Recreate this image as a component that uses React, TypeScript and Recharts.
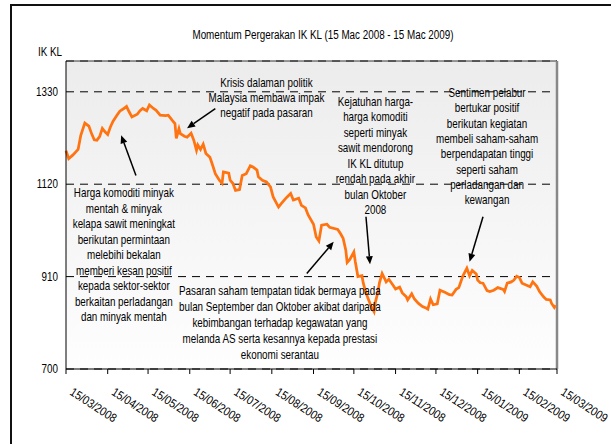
import React from 'react';
import { LineChart, Line, XAxis, YAxis, CartesianGrid, ReferenceLine, ReferenceDot } from 'recharts';

// Arial-like font squeezed horizontally to match the narrow type of the original
const FONT = '"Liberation Sans", Arial, sans-serif';
const SQUEEZE = 0.82;

const dates = [
  '2008-03-15', '2008-03-17', '2008-03-20', '2008-03-24', '2008-03-26', '2008-03-29',
  '2008-04-01', '2008-04-03', '2008-04-05', '2008-04-07', '2008-04-09', '2008-04-11', '2008-04-13',
  '2008-04-15', '2008-04-17', '2008-04-19', '2008-04-22', '2008-04-24', '2008-04-27', '2008-04-29',
  '2008-05-01', '2008-05-03', '2008-05-07', '2008-05-09', '2008-05-11', '2008-05-14', '2008-05-16',
  '2008-05-19', '2008-05-21', '2008-05-24', '2008-05-28', '2008-05-30',
  '2008-06-02', '2008-06-04', '2008-06-05', '2008-06-07', '2008-06-08', '2008-06-11', '2008-06-13',
  '2008-06-16', '2008-06-18', '2008-06-20', '2008-06-21', '2008-06-23', '2008-06-25', '2008-06-27',
  '2008-06-30', '2008-07-02', '2008-07-04', '2008-07-07', '2008-07-09', '2008-07-10', '2008-07-14',
  '2008-07-15', '2008-07-17', '2008-07-19', '2008-07-22', '2008-07-24', '2008-07-27', '2008-07-30',
  '2008-08-01', '2008-08-04', '2008-08-05', '2008-08-08', '2008-08-11', '2008-08-14', '2008-08-16',
  '2008-08-20', '2008-08-22', '2008-08-26', '2008-08-29', '2008-08-31',
  '2008-09-04', '2008-09-06', '2008-09-09', '2008-09-11', '2008-09-15', '2008-09-17', '2008-09-19',
  '2008-09-21', '2008-09-25', '2008-09-27',
  '2008-10-03', '2008-10-05', '2008-10-07', '2008-10-09', '2008-10-10', '2008-10-12', '2008-10-15',
  '2008-10-16', '2008-10-18', '2008-10-21', '2008-10-22', '2008-10-24', '2008-10-26', '2008-10-28',
  '2008-10-30', '2008-10-31',
  '2008-11-02', '2008-11-03', '2008-11-05', '2008-11-08', '2008-11-10', '2008-11-13', '2008-11-15',
  '2008-11-18', '2008-11-20', '2008-11-23', '2008-11-24', '2008-11-27', '2008-11-29',
  '2008-12-02', '2008-12-05', '2008-12-08', '2008-12-09', '2008-12-11', '2008-12-13', '2008-12-16',
  '2008-12-18', '2008-12-22', '2008-12-25', '2008-12-27', '2008-12-30',
  '2009-01-01', '2009-01-04', '2009-01-07', '2009-01-09', '2009-01-11', '2009-01-14', '2009-01-15',
  '2009-01-17', '2009-01-19', '2009-01-22', '2009-01-24', '2009-01-27', '2009-01-30',
  '2009-02-03', '2009-02-04', '2009-02-06', '2009-02-09', '2009-02-11', '2009-02-13', '2009-02-15',
  '2009-02-17', '2009-02-20', '2009-02-23', '2009-02-25', '2009-02-28',
  '2009-03-02', '2009-03-05', '2009-03-07', '2009-03-10', '2009-03-11', '2009-03-13', '2009-03-14',
];

const klci = [
  1196, 1178, 1186, 1199, 1231, 1259,
  1252, 1235, 1221, 1220, 1228, 1247, 1239,
  1233, 1250, 1263, 1277, 1286, 1292, 1297,
  1284, 1273, 1279, 1287, 1292, 1287, 1300,
  1292, 1288, 1277, 1276, 1277,
  1265, 1258, 1224, 1246, 1235, 1229, 1227,
  1236, 1220, 1197, 1209, 1199, 1211, 1190,
  1181, 1163, 1144, 1129, 1122, 1148, 1145,
  1129, 1122, 1106, 1108, 1140, 1144, 1162,
  1159, 1152, 1137, 1129, 1125, 1114, 1091,
  1068, 1076, 1090, 1099, 1084,
  1088, 1072, 1066, 1050, 1029, 1000, 991,
  1027, 1029, 1022,
  1017, 1008, 997, 970, 942, 949, 966,
  945, 910, 912, 895, 873, 857, 841,
  830, 852,
  876, 896, 917, 898, 904, 891, 882,
  886, 873, 864, 857, 871, 859,
  849, 842, 838, 836, 859, 846, 848,
  879, 874, 869, 868, 881,
  885, 911, 929, 912, 924, 916, 902,
  896, 895, 878, 876, 879, 885,
  881, 876, 895, 898, 902, 911, 908,
  895, 891, 887, 898, 888,
  876, 864, 858, 857, 849, 840, 845,
];

const tickDates = [
  '2008-03-15', '2008-04-15', '2008-05-15', '2008-06-15', '2008-07-15', '2008-08-15', '2008-09-15',
  '2008-10-15', '2008-11-15', '2008-12-15', '2009-01-15', '2009-02-15', '2009-03-15',
];
const yTicks = [700, 910, 1120, 1330];

// text notes: date and value at the centre of the first line, line gap
const notes = [
  { at: '2008-08-11', v: 1349, gap: 15, lines: ['Krisis dalaman politik', 'Malaysia membawa impak', 'negatif pada pasaran'] },
  { at: '2008-04-27', v: 1099, gap: 15.5, lines: ['Harga komoditi minyak', 'mentah & minyak', 'kelapa sawit meningkat', 'berikutan permintaan', 'melebihi bekalan', 'memberi kesan positif', 'kepada sektor-sektor', 'berkaitan perladangan', 'dan minyak mentah'] },
  { at: '2008-10-31', v: 1307, gap: 15.5, lines: ['Kejatuhan harga-', 'harga komoditi', 'seperti minyak', 'sawit mendorong', 'IK KL ditutup', 'rendah pada akhir', 'bulan Oktober', '2008'] },
  { at: '2009-01-22', v: 1327, gap: 15.3, lines: ['Sentimen pelabur', 'bertukar positif', 'berikutan kegiatan', 'membeli saham-saham', 'berpendapatan tinggi', 'seperti saham', 'perladangan dan', 'kewangan'] },
  { at: '2008-08-21', v: 878, gap: 16, lines: ['Pasaran saham tempatan tidak bermaya pada', 'bulan September dan Oktober akibat daripada', 'kebimbangan terhadap kegawatan yang', 'melanda AS serta kesannya kepada prestasi', 'ekonomi serantau'] },
];

// arrows: tail -> head
const arrows = [
  { from: ['2008-07-04', 1292], to: ['2008-06-13', 1247] },
  { from: ['2008-05-06', 1140], to: ['2008-04-25', 1231] },
  { from: ['2008-10-24', 1046], to: ['2008-10-27', 938] },
  { from: ['2009-01-19', 1046], to: ['2009-01-09', 944] },
  { from: ['2008-09-10', 917], to: ['2008-09-30', 989] },
];

const ts = (d: string) => Date.parse(d);
const data = dates.map((d, i) => ({ t: ts(d), v: klci[i] }));
const xTicks = tickDates.map(ts);

const fmt = (t: number) => {
  const d = new Date(t);
  const dd = String(d.getUTCDate()).padStart(2, '0');
  const mm = String(d.getUTCMonth() + 1).padStart(2, '0');
  return `${dd}/${mm}/${d.getUTCFullYear()}`;
};

const XTick = ({ x, y, payload }: any) => (
  <text
    transform={`translate(${x + 3},${y + 18}) rotate(33) scale(0.88,1)`}
    textAnchor="start"
    fontSize={12}
    fontFamily={FONT}
    fill="#000"
  >
    {fmt(payload.value)}
  </text>
);

const YTick = ({ x, y, payload }: any) => (
  <text
    transform={`translate(${x},${y}) scale(${SQUEEZE},1)`}
    dy={4}
    textAnchor="end"
    fontSize={12}
    fontFamily={FONT}
    fill="#000"
  >
    {payload.value}
  </text>
);

const Arrow = (p: any) => {
  const { x1, y1, x2, y2 } = p;
  const ang = Math.atan2(y2 - y1, x2 - x1);
  const len = 8;
  const w = 3.5;
  const bx = x2 - len * Math.cos(ang);
  const by = y2 - len * Math.sin(ang);
  const px = -Math.sin(ang) * w;
  const py = Math.cos(ang) * w;
  return (
    <g>
      <line x1={x1} y1={y1} x2={bx} y2={by} stroke="#000" strokeWidth={1.5} />
      <polygon points={`${x2},${y2} ${bx + px},${by + py} ${bx - px},${by - py}`} fill="#000" />
    </g>
  );
};

const NoteText = ({ cx, cy, lines, gap }: any) => (
  <g transform={`translate(${cx},${cy}) scale(${SQUEEZE},1)`}>
    <text fontSize={12} fontFamily={FONT} fill="#000" textAnchor="middle">
      {lines.map((l: string, i: number) => (
        <tspan key={i} x={0} y={i * gap + 4}>{l}</tspan>
      ))}
    </text>
  </g>
);

export default function App() {
  return (
    <div style={{ position: 'absolute', left: 0, top: 0, width: 611, height: 444, overflow: 'hidden', background: '#fff' }}>
      <div style={{ position: 'absolute', left: 10, top: 4, width: 800, height: 600, borderLeft: '2px solid #111', borderTop: '2px solid #111' }} />
      <div
        style={{
          position: 'absolute', left: 0, width: 646, top: 28, textAlign: 'center', fontFamily: FONT, fontSize: 12,
          transform: `scaleX(${SQUEEZE})`, transformOrigin: '323px 0',
        }}
      >
        Momentum Pergerakan IK KL (15 Mac 2008 - 15 Mac 2009)
      </div>
      <div
        style={{
          position: 'absolute', left: 0, width: 62, top: 45, textAlign: 'right', fontFamily: FONT, fontSize: 12,
          transform: `scaleX(${SQUEEZE})`, transformOrigin: '62px 0',
        }}
      >
        IK KL
      </div>
      <div style={{ position: 'absolute', left: 0, top: 0 }}>
        <LineChart width={611} height={444} data={data} margin={{ top: 61, right: 54, bottom: 15, left: 16 }}>
          <defs>
            <linearGradient id="plotBg" x1="0" y1="0" x2="0" y2="1">
              <stop offset="0%" stopColor="#ececec" />
              <stop offset="100%" stopColor="#fefefe" />
            </linearGradient>
          </defs>
          <CartesianGrid vertical={false} stroke="#000" strokeDasharray="8 6" fill="url(#plotBg)" />
          <XAxis
            dataKey="t"
            type="number"
            domain={[xTicks[0], xTicks[xTicks.length - 1]]}
            ticks={xTicks}
            interval={0}
            height={60}
            stroke="#000"
            tickSize={5}
            tick={<XTick />}
          />
          <YAxis
            domain={[700, 1400]}
            ticks={yTicks}
            interval={0}
            width={50}
            stroke="#000"
            tickLine={false}
            tick={<YTick />}
          />
          <ReferenceLine y={1400} stroke="#333" strokeWidth={1} />
          <ReferenceLine x={xTicks[xTicks.length - 1]} stroke="#888" strokeWidth={2.5} />
          <Line
            type="linear"
            dataKey="v"
            stroke="#FF7310"
            strokeWidth={2.75}
            dot={false}
            isAnimationActive={false}
          />
          {arrows.map((a, i) => (
            <ReferenceLine
              key={`a${i}`}
              segment={[{ x: ts(a.from[0] as string), y: a.from[1] }, { x: ts(a.to[0] as string), y: a.to[1] }]}
              shape={<Arrow />}
            />
          ))}
          {notes.map((n, i) => (
            <ReferenceDot
              key={`n${i}`}
              x={ts(n.at)}
              y={n.v}
              r={0}
              shape={(p: any) => <NoteText cx={p.cx} cy={p.cy} lines={n.lines} gap={n.gap} />}
            />
          ))}
        </LineChart>
      </div>
    </div>
  );
}
